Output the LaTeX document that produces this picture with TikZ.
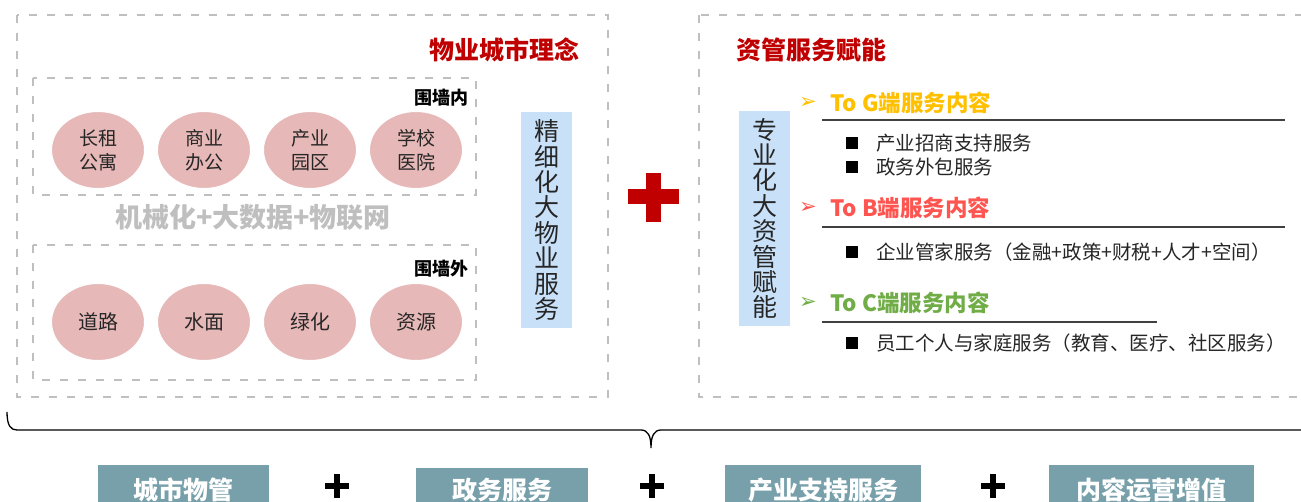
\documentclass[tikz,border=0pt]{standalone}
\usepackage{fontspec}
\setmainfont{Noto Sans CJK SC}
\newfontfamily\symfont{DejaVu Sans}
\usepackage{tikz}
\usetikzlibrary{shapes.geometric}
\definecolor{titlered}{RGB}{192,0,0}
\definecolor{dashgray}{RGB}{191,191,191}
\definecolor{pinkfill}{RGB}{230,184,183}
\definecolor{bluefill}{RGB}{200,224,248}
\definecolor{gcolor}{RGB}{255,192,0}
\definecolor{bcolor}{RGB}{255,85,80}
\definecolor{ccolor}{RGB}{112,173,71}
\definecolor{tealbox}{RGB}{120,160,170}
\definecolor{textdark}{RGB}{38,38,38}
\definecolor{rulegray}{RGB}{64,64,64}

\begin{document}
\begin{tikzpicture}[x=1pt,y=-1pt,
                    dashbox/.style={draw=dashgray, line width=2.2pt, dash pattern=on 8pt off 10pt},
                    title/.style={inner sep=0pt, text=titlered, font=\bfseries\fontsize{25}{25}\selectfont},
                    wall/.style={inner sep=0pt, anchor=east, text=black, font=\bfseries\fontsize{18}{18}\selectfont},
                    spot/.style={ellipse, fill=pinkfill, draw=white, line width=1pt, minimum width=93pt,
                                 minimum height=77pt, inner sep=0pt, align=center, text=textdark,
                                 font=\fontsize{19}{24}\selectfont},
                    vbox/.style={fill=bluefill, minimum width=51pt, minimum height=215pt, inner sep=0pt,
                                 align=center, text=textdark, font=\fontsize{25}{25.4}\selectfont},
                    arrowmark/.style={inner sep=0pt, font=\symfont\fontsize{21}{21}\selectfont},
                    head/.style={inner sep=0pt, anchor=west, font=\bfseries\fontsize{22.5}{22.5}\selectfont},
                    headrule/.style={draw=rulegray, line width=1.4pt},
                    bulletsq/.style={fill=black, minimum size=12pt, inner sep=0pt},
                    item/.style={inner sep=0pt, anchor=west, text=textdark, font=\fontsize{19.5}{19.5}\selectfont},
                    bottombox/.style={fill=tealbox, minimum height=50pt, inner sep=0pt, text=white,
                                      font=\bfseries\fontsize{25}{25}\selectfont},
                    plusbar/.style={line width=6pt, black}]
\useasboundingbox[fill=white] (0,0) rectangle (1301,501);

\draw[dashbox] (17,15) rectangle (608,397);
\draw[dashbox] (699,15) rectangle (1330,397);
\draw[dashbox] (33,78) rectangle (476,195);
\draw[dashbox] (33,245) rectangle (476,380);

\node[title, anchor=east] (lefttitle) at (580,50) {物业城市理念};
\node[wall] (wallin) at (469,98) {围墙内};
\node[wall] (wallout) at (469,269) {围墙外};

\node[spot] (rent) at (98,150) {长租\\公寓};
\node[spot] (office) at (204,150) {商业\\办公};
\node[spot] (park) at (310,150) {产业\\园区};
\node[spot] (school) at (416,150) {学校\\医院};

\node[inner sep=0pt, text=dashgray, font=\bfseries\fontsize{27}{27}\selectfont] (tech) at (253,217)
    {机械化+大数据+物联网};

\node[spot, font=\fontsize{20}{20}\selectfont] (road) at (98,322) {道路};
\node[spot, font=\fontsize{20}{20}\selectfont] (water) at (204,322) {水面};
\node[spot, font=\fontsize{20}{20}\selectfont] (green) at (310,322) {绿化};
\node[spot, font=\fontsize{20}{20}\selectfont] (resource) at (416,322) {资源};

\node[vbox, minimum height=216pt] (fineservice) at (546.5,220) {精\\细\\化\\大\\物\\业\\服\\务};

\fill[titlered] (627.7,189) rectangle (678.7,204);
\fill[titlered] (645.7,172.7) rectangle (660.7,221.7);

\node[title, anchor=west] (righttitle) at (736,50) {资管服务赋能};
\node[vbox] (assetservice) at (764.5,218.5) {专\\业\\化\\大\\资\\管\\赋\\能};

\node[arrowmark, text=gcolor] (arrowg) at (808,103) {➢};
\node[head, text=gcolor] (headg) at (830,103) {To G端服务内容};
\draw[headrule] (822,120) -- (1285,120);
\node[bulletsq] (bulletg1) at (851.5,143) {};
\node[item] (itemg1) at (876,143) {产业招商支持服务};
\node[bulletsq] (bulletg2) at (851.5,167) {};
\node[item] (itemg2) at (876,167) {政务外包服务};

\node[arrowmark, text=bcolor] (arrowb) at (808,208) {➢};
\node[head, text=bcolor] (headb) at (830,208) {To B端服务内容};
\draw[headrule] (822,227) -- (1285,227);
\node[bulletsq] (bulletb1) at (851.5,252) {};
\node[item] (itemb1) at (876,252) {企业管家服务（金融+政策+财税+人才+空间）};

\node[arrowmark, text=ccolor] (arrowc) at (808,303) {➢};
\node[head, text=ccolor] (headc) at (830,303) {To C端服务内容};
\draw[headrule] (822,322) -- (1157,322);
\node[bulletsq] (bulletc1) at (851.5,343) {};
\node[item] (itemc1) at (876,343) {员工个人与家庭服务（教育、医疗、社区服务）};

\coordinate (braceL) at (7,412);
\coordinate (braceR) at (1330,430);
\draw[line width=1.3pt, black] (braceL) .. controls +(0,14) and +(-6,0) .. (17,430) -- (641,430)
    .. controls +(7,0) and +(0,-12) .. (651,448) .. controls +(0,-12) and +(-7,0) .. (661,430) -- (braceR);

\node[bottombox, minimum width=171pt] (citymgmt) at (183.5,490) {城市物管};
\node[bottombox, minimum width=172pt, minimum height=44pt] (govservice) at (502,490) {政务服务};
\node[bottombox, minimum width=196pt] (industry) at (823,490) {产业支持服务};
\node[bottombox, minimum width=205pt] (content) at (1151.5,490) {内容运营增值};

\draw[plusbar] (325,486) -- (349,486);
\draw[plusbar] (337,474) -- (337,498);
\draw[plusbar] (640,486) -- (664,486);
\draw[plusbar] (652,474) -- (652,498);
\draw[plusbar] (981,486) -- (1005,486);
\draw[plusbar] (993,474) -- (993,498);
\end{tikzpicture}
\end{document}
